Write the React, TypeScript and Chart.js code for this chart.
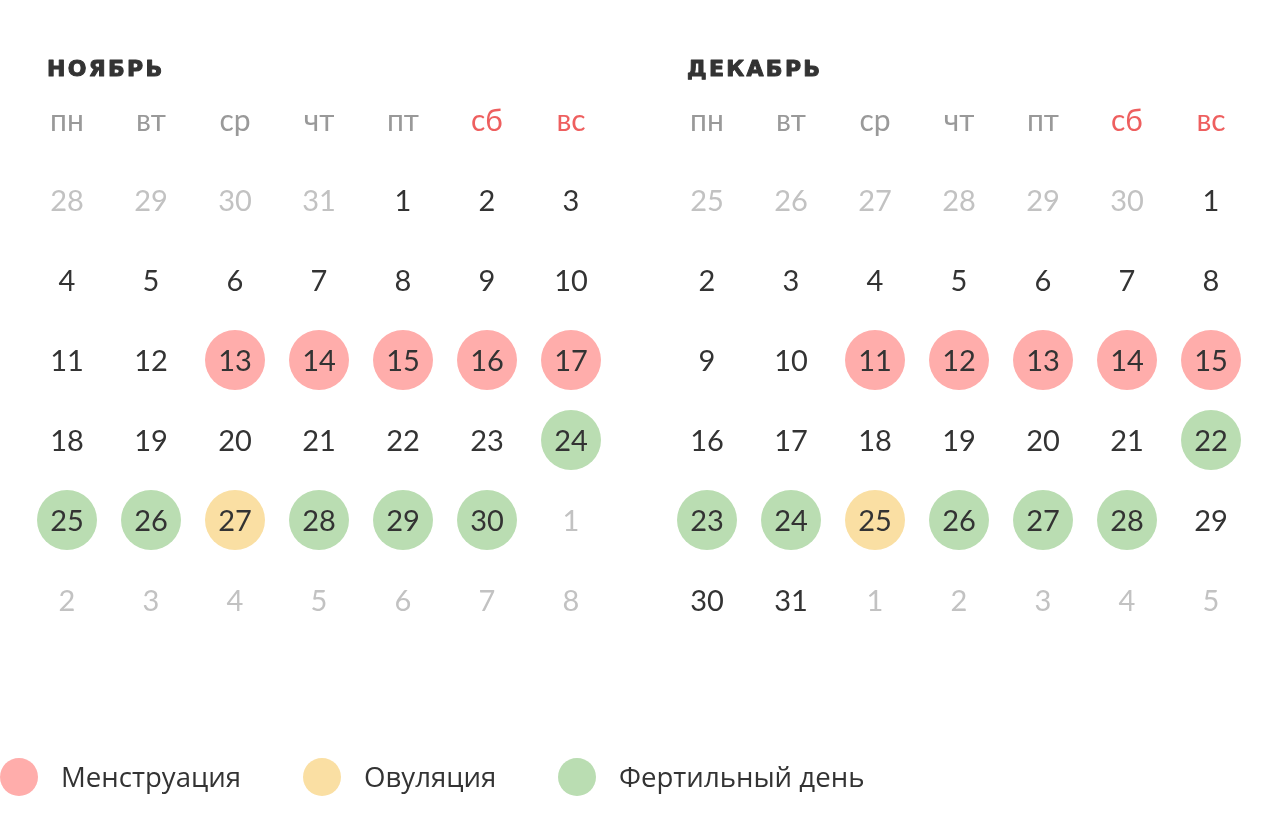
import { useEffect, useRef } from "react";
import { Chart, registerables } from "chart.js";

Chart.register(...registerables);

// ---- data ----
const weekdays = ["пн", "вт", "ср", "чт", "пт", "сб", "вс"];
const weekendDays = ["сб", "вс"];
const monthTitles = ["НОЯБРЬ", "ДЕКАБРЬ"];

const novemberCells = [
  28, 29, 30, 31, 1, 2, 3,
  4, 5, 6, 7, 8, 9, 10,
  11, 12, 13, 14, 15, 16, 17,
  18, 19, 20, 21, 22, 23, 24,
  25, 26, 27, 28, 29, 30, 1,
  2, 3, 4, 5, 6, 7, 8,
];
const novemberPrevCount = 4;
const novemberDaysInMonth = 30;
const novemberMenstruation = [13, 14, 15, 16, 17];
const novemberOvulation = [27];
const novemberFertile = [24, 25, 26, 28, 29, 30];

const decemberCells = [
  25, 26, 27, 28, 29, 30, 1,
  2, 3, 4, 5, 6, 7, 8,
  9, 10, 11, 12, 13, 14, 15,
  16, 17, 18, 19, 20, 21, 22,
  23, 24, 25, 26, 27, 28, 29,
  30, 31, 1, 2, 3, 4, 5,
];
const decemberPrevCount = 6;
const decemberDaysInMonth = 31;
const decemberMenstruation = [11, 12, 13, 14, 15];
const decemberOvulation = [25];
const decemberFertile = [22, 23, 24, 26, 27, 28];

const legendLabels = ["Менструация", "Овуляция", "Фертильный день"];

// ---- styles ----
const COLORS = {
  menstruation: "#FFADAB",
  ovulation: "#FADFA3",
  fertile: "#BADDB2",
  text: "#333333",
  muted: "#C2C2C2",
  weekday: "#999999",
  weekend: "#EE5F5F",
};
const COL_STEP = 84;
const ROW_STEP = 80;
const FIRST_COL_PX = 67;
const FIRST_ROW_PX = 200;
const MONTH_OFFSET = 640 / COL_STEP;
const W = 1280;
const H = 824;

type Month = {
  cells: number[];
  prev: number;
  days: number;
  menstruation: number[];
  ovulation: number[];
  fertile: number[];
  offset: number;
  title: string;
};

const months: Month[] = [
  {
    cells: novemberCells,
    prev: novemberPrevCount,
    days: novemberDaysInMonth,
    menstruation: novemberMenstruation,
    ovulation: novemberOvulation,
    fertile: novemberFertile,
    offset: 0,
    title: monthTitles[0],
  },
  {
    cells: decemberCells,
    prev: decemberPrevCount,
    days: decemberDaysInMonth,
    menstruation: decemberMenstruation,
    ovulation: decemberOvulation,
    fertile: decemberFertile,
    offset: MONTH_OFFSET,
    title: monthTitles[1],
  },
];

function cellPoint(m: Month, day: number) {
  const idx = m.cells.findIndex((d, i) => d === day && i >= m.prev && i < m.prev + m.days);
  return { x: (idx % 7) + m.offset, y: Math.floor(idx / 7) };
}

function points(kind: "menstruation" | "ovulation" | "fertile") {
  const out: { x: number; y: number }[] = [];
  months.forEach((m) => m[kind].forEach((d) => out.push(cellPoint(m, d))));
  return out;
}

const textPlugin = {
  id: "calendarText",
  afterDatasetsDraw(chart: any) {
    const ctx = chart.ctx as CanvasRenderingContext2D;
    const xs = chart.scales.x;
    const ys = chart.scales.y;
    ctx.save();
    ctx.textAlign = "center";
    ctx.textBaseline = "middle";
    months.forEach((m) => {
      // title
      ctx.save();
      ctx.textAlign = "left";
      ctx.font = "bold 22px 'DejaVu Sans', sans-serif";
      (ctx as any).letterSpacing = "2.3px";
      ctx.fillStyle = COLORS.text;
      ctx.strokeStyle = COLORS.text;
      ctx.lineWidth = 1;
      ctx.lineJoin = "round";
      const tx = xs.getPixelForValue(m.offset) - 20;
      const ty = ys.getPixelForValue(-1.625);
      ctx.fillText(m.title, tx, ty);
      ctx.strokeText(m.title, tx, ty);
      ctx.restore();
      // weekdays
      ctx.font = "30px Lato, sans-serif";
      weekdays.forEach((w, i) => {
        ctx.fillStyle = weekendDays.includes(w) ? COLORS.weekend : COLORS.weekday;
        ctx.fillText(w, xs.getPixelForValue(i + m.offset), ys.getPixelForValue(-1) + 1);
      });
      // days
      ctx.font = "29px Lato, sans-serif";
      m.cells.forEach((d, i) => {
        const inMonth = i >= m.prev && i < m.prev + m.days;
        ctx.fillStyle = inMonth ? COLORS.text : COLORS.muted;
        ctx.fillText(String(d), xs.getPixelForValue((i % 7) + m.offset), ys.getPixelForValue(Math.floor(i / 7)) + 2);
      });
    });
    // legend
    const legendColors = [COLORS.menstruation, COLORS.ovulation, COLORS.fertile];
    const legendX = [19, 322, 577];
    const ly = 777;
    ctx.font = "27.6px 'Open Sans', sans-serif";
    ctx.textAlign = "left";
    legendLabels.forEach((lab, i) => {
      ctx.beginPath();
      ctx.fillStyle = legendColors[i];
      ctx.arc(legendX[i], ly, 19, 0, Math.PI * 2);
      ctx.fill();
      ctx.fillStyle = COLORS.text;
      ctx.fillText(lab, legendX[i] + 42, ly + 2);
    });
    ctx.restore();
  },
};

export default function App() {
  const ref = useRef<HTMLCanvasElement | null>(null);
  useEffect(() => {
    if (!ref.current) return;
    const ds = (label: string, data: any[], color: string) => ({
      label,
      data,
      backgroundColor: color,
      borderWidth: 0,
      pointRadius: 30,
      pointHoverRadius: 30,
    });
    const chart = new Chart(ref.current, {
      type: "scatter",
      data: {
        datasets: [
          ds(legendLabels[0], points("menstruation"), COLORS.menstruation),
          ds(legendLabels[1], points("ovulation"), COLORS.ovulation),
          ds(legendLabels[2], points("fertile"), COLORS.fertile),
        ],
      },
      options: {
        animation: false,
        responsive: false,
        events: [],
        layout: { padding: 0, autoPadding: false },
        plugins: { legend: { display: false }, tooltip: { enabled: false } },
        scales: {
          x: {
            type: "linear",
            display: false,
            min: -FIRST_COL_PX / COL_STEP,
            max: (W - FIRST_COL_PX) / COL_STEP,
          },
          y: {
            type: "linear",
            display: false,
            reverse: true,
            min: -FIRST_ROW_PX / ROW_STEP,
            max: (H - FIRST_ROW_PX) / ROW_STEP,
          },
        },
      },
      plugins: [textPlugin],
    });
    return () => chart.destroy();
  }, []);
  return (
    <div style={{ position: "fixed", left: 0, top: 0, width: W, height: H, background: "#fff" }}>
      <canvas ref={ref} width={W} height={H} style={{ width: W, height: H, display: "block" }} />
    </div>
  );
}
